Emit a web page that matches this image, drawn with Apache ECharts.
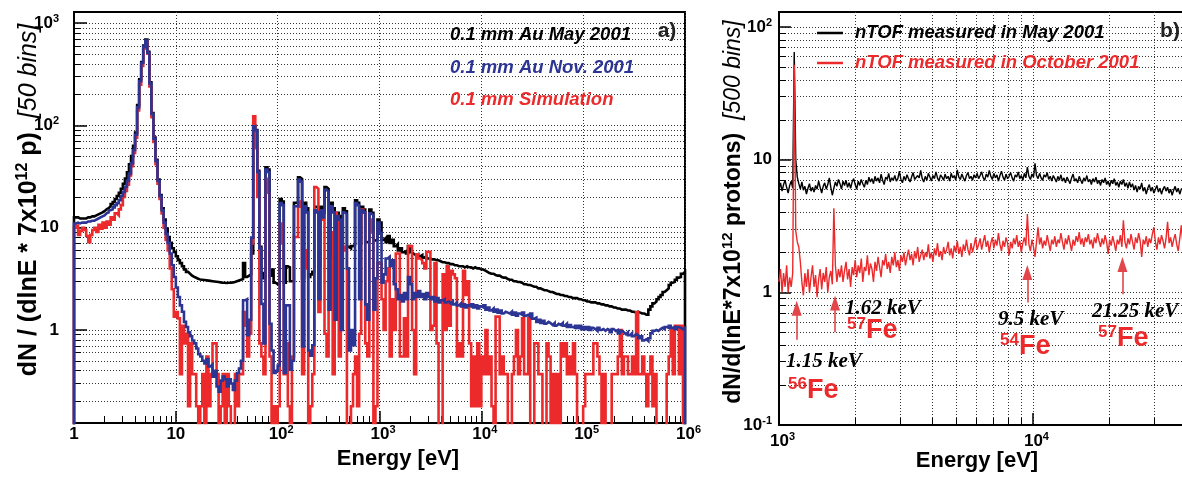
<!DOCTYPE html>
<html>
<head>
<meta charset="utf-8">
<script src="https://cdn.jsdelivr.net/npm/echarts@6/dist/echarts.min.js"></script>
<style>
  html, body { margin: 0; background: #fff; }
  #chart { width: 1182px; height: 477px; }
</style>
</head>
<body>
<div id="chart"></div>
<script>
// ---- panel a) : 50 bins per decade, 1 eV .. 1 MeV (bin i = 10^(i/50) .. 10^((i+1)/50))
const binsPerDecade = 50;
const nBinsA = 300;

// 0.1 mm Au, May 2001 (black)
const mayA = [
  12.6,12.6,12.3,12.3,12.3,12.3,12.6,12.6,12.9,12.9,
  13.2,13.5,13.8,14.1,14.5,15.1,15.5,16.2,17.0,17.8,
  19.1,20.4,21.9,24.0,26.9,30.2,34.7,41.7,50.1,63,
  85,158,282,417,603,692,525,263,132,76,
  46,29.5,20.9,15.5,12.0,9.8,8.1,7.1,6.3,5.8,
  5.25,4.8,4.5,4.2,3.9,3.7,3.55,3.4,3.3,3.24,
  3.16,3.12,3.1,3.08,3.06,3.04,3.02,3.0,2.98,2.96,
  2.94,2.92,2.9,2.9,2.88,2.9,2.9,2.92,2.95,3.0,
  3.05,3.1,3.15,4.5,3.3,3.4,3.5,5.6,100,90,
  36,6.5,3.6,3.2,39,37,3.4,3.9,2.9,2.8,
  2.8,19,18,2.9,4.2,4.1,3.0,3.0,17.5,17.5,
  31,30,3.2,17.5,15.5,3.3,3.5,3.7,16,15.5,
  4.2,16,14,25,24,5.2,17.5,15.5,5.6,14,
  13,6.0,15.5,14.5,6.5,6.3,6.6,6.8,18.5,17.5,
  7.0,16,15,7.2,7.3,15,14,7.5,7.6,12,
  11.2,7.6,7.9,7.2,8.3,7.1,7.6,6.6,6.9,6.0,
  6.3,5.75,5.9,5.6,6.6,5.75,5.5,5.4,5.5,5.25,
  5.4,5.1,5.25,5.0,5.0,4.9,4.9,4.8,4.8,4.7,
  4.6,4.6,4.5,4.5,4.4,4.4,4.3,4.3,4.2,4.2,
  4.2,4.1,4.2,4.1,4.1,4.0,4.1,4.0,4.0,3.9,
  3.9,3.8,3.7,3.6,3.55,3.55,3.45,3.4,3.4,3.3,
  3.25,3.25,3.15,3.1,3.1,3.0,3.0,2.95,2.95,2.9,
  2.8,2.8,2.75,2.75,2.7,2.65,2.65,2.55,2.55,2.5,
  2.45,2.45,2.4,2.35,2.35,2.3,2.25,2.25,2.2,2.2,
  2.15,2.15,2.1,2.1,2.05,2.05,2.05,2.0,2.0,1.95,
  1.95,1.9,1.9,1.86,1.86,1.86,1.82,1.82,1.78,1.78,
  1.74,1.74,1.7,1.7,1.66,1.66,1.62,1.62,1.58,1.58,
  1.58,1.55,1.55,1.51,1.51,1.48,1.51,1.48,1.45,1.45,
  1.41,1.41,1.58,1.7,1.82,1.9,2.0,2.1,2.2,2.35,
  2.45,2.55,2.75,2.9,2.95,3.1,3.25,3.3,3.55,3.7
];

// 0.1 mm Au, Nov. 2001 (blue)
const novA = [
  11.0,11.2,11.0,11.2,11.2,11.2,11.5,11.5,11.7,11.7,
  12.0,12.3,12.6,12.9,13.2,13.8,14.1,14.8,15.1,15.8,
  16.6,17.4,18.6,20.4,22.4,25.1,28.8,33.9,42.7,57.5,
  81,150,270,407,589,676,513,257,129,74,
  45,28.8,20.4,14.8,11.2,8.7,7.1,5.6,4.3,3.3,
  2.6,2.1,1.74,1.51,1.2,1.07,0.95,0.87,0.79,0.74,
  0.66,0.58,0.55,0.50,0.47,0.52,0.44,0.46,0.35,0.40,
  0.28,0.25,0.32,0.35,0.33,0.28,0.33,0.30,0.26,0.32,
  0.38,0.42,0.50,1.95,2.0,0.89,1.26,8,98,89,
  35,6.3,1.8,0.74,37,35,1.15,0.63,0.38,0.40,
  0.45,17.4,16.6,0.38,1.74,1.74,0.41,0.50,16.2,16.2,
  29.5,28.2,0.69,16.2,14.1,0.63,0.56,0.71,14.8,14.1,
  2.0,14.8,12.6,23.4,22.4,1.58,16.2,14.1,1.26,12.9,
  12.0,1.0,14.1,13.5,4.0,0.63,1.0,0.71,17.4,16.6,
  2.0,14.8,14.1,1.78,1.26,13.8,13.2,1.58,3.2,11.2,
  8.9,2.9,3.5,5.0,5.2,4.2,4.8,2.8,2.5,2.0,
  2.2,1.9,2.3,2.0,3.3,2.8,2.0,2.3,2.1,2.4,
  2.1,2.25,2.0,2.3,2.1,2.0,2.1,1.9,2.05,1.86,
  1.95,2.0,1.86,1.9,1.82,1.9,1.78,1.86,1.74,1.82,
  1.7,1.78,1.66,1.74,1.7,1.78,1.66,1.74,1.62,1.7,
  1.66,1.74,1.58,1.66,1.55,1.62,1.51,1.58,1.48,1.55,
  1.45,1.51,1.48,1.45,1.51,1.41,1.48,1.38,1.45,1.41,
  1.48,1.38,1.41,1.35,1.45,1.29,1.32,1.2,1.26,1.17,
  1.23,1.15,1.2,1.17,1.12,1.17,1.1,1.15,1.12,1.17,
  1.1,1.15,1.07,1.12,1.07,1.05,1.1,1.05,1.1,1.02,
  1.07,1.02,1.07,1.0,1.05,1.02,0.98,1.05,1.0,1.02,
  0.98,1.02,1.0,0.95,1.02,0.98,1.0,0.93,0.98,0.95,
  0.91,0.95,0.89,0.93,0.87,0.91,0.89,0.83,0.87,0.79,
  0.81,0.78,0.83,0.93,0.98,1.0,0.98,1.02,1.05,1.02,
  1.07,1.05,1.1,1.05,1.07,1.02,1.07,1.05,1.02,1.05
];

// 0.1 mm simulation (red); 0 = empty bin
const simA = [
  10,10.5,8.5,9.3,10,9.5,8.3,7.2,8.5,9.5,
  10,9.1,10.7,9.8,11.2,10,11.5,10.7,12.6,12,
  13.8,13.2,15.1,16.6,20,22.9,26.3,32.4,39.8,53.7,
  75.9,140,250,380,562,661,501,240,120,69,
  41.7,26.9,19.1,13.8,10,7.6,6.0,4.0,2.5,1.35,
  1.5,1.3,0.37,1.1,0.74,0.92,0.18,0.74,0.37,0.37,
  0.18,0,0.18,0.37,0,0.55,0.18,0.37,0.74,0.74,
  0.37,0,0.18,0.37,0,0.37,0.18,0,0,0.37,
  0.18,0.37,0.37,1.5,1.1,0.55,0.92,7,123,60,
  20,0.74,0.55,0.37,30,22,0.55,0,0.18,0,
  0.18,11,7,0.37,0.74,0.18,0,0.55,8.1,8.1,
  16,18,0.37,6,4,0,0.18,0.37,25,24,
  1.5,14,12,0.92,0.55,14,9,0.37,14,13,
  0.55,7,6,6.5,0,0,0.18,0.37,0.55,0.18,
  0.92,15,14,0.74,0.55,12,9,0,0.18,4.5,
  4.5,2.0,1.0,3.0,4.0,0.55,2.0,1.0,5.6,5.6,
  0.55,0.55,1.3,0.55,6.6,6.6,1.0,0.37,5.5,5.0,
  4.8,4.5,4.0,5.8,5.8,1.0,1.1,4.5,0.74,0,
  0,3.5,1.0,4.2,1.1,3.8,3.5,3.2,0.55,0.74,
  0.55,3.8,2.2,3.0,0.74,0.18,0.55,0.18,0.74,0.18,
  0.55,0.37,1.0,0.37,0.55,0.18,0,1.35,1.35,0.37,
  0.55,0.37,0.37,0,0,0.37,0.55,1.0,0.37,0.55,
  1.3,0.37,0.37,1.3,0,0,0.74,0.74,0.37,0.37,
  0,0,0.74,0.55,0,0.37,0,0.37,0,0.74,
  0.55,0.74,0.37,0.55,0.37,0.74,0.37,0,0,0,
  0.18,0.37,0.37,0.37,0.37,0.74,0.74,0.55,0.37,0,
  0.37,0,0,0,0.37,0.37,0.37,0.55,1.0,0.37,
  0.55,0.55,0.37,0.37,0.55,0.37,1.5,0.37,0.37,0.55,
  0.37,0.18,0.37,0.55,0.18,0.37,0,0,0,0,
  0,0.37,0.55,1.0,0.37,1.1,1.1,0.37,1.1,0
];

// ---- panel b) : points every 0.006 decade starting at 1 keV
const startB = 1000;
const stepB = 0.006;

// nTOF measured in May 2001 (black)
const mayB = [
  6.0,6.7,5.8,6.5,7.0,6.2,5.6,6.4,6.9,6.1,
  65,10,
  7.4,6.6,6.0,6.8,5.9,6.3,5.5,6.1,6.6,5.8,
  6.2,5.7,6.4,6.0,6.9,6.2,5.6,6.3,6.7,6.0,
  6.5,7.3,6.2,5.4,6.1,6.8,6.3,7.1,6.6,6.0,
  6.9,6.4,7.0,6.2,6.7,6.1,6.8,7.2,6.5,6.0,
  6.9,6.4,7.1,6.6,6.2,7.0,6.5,7.4,6.8,
  7.2,6.6,7.5,6.9,7.3,6.7,7.8,7.0,6.5,7.4,
  7.1,7.9,6.8,7.3,7.0,7.6,6.9,7.2,8.2,7.1,
  6.7,7.5,7.0,7.7,7.2,6.8,7.4,8.0,7.1,6.9,
  7.6,7.3,8.3,7.2,6.8,7.5,7.0,7.9,7.4,6.9,
  7.6,7.2,8.1,7.3,6.9,7.7,7.4,7.0,7.8,7.2,
  7.5,6.9,7.9,7.3,7.6,7.0,8.4,7.4,7.1,7.8,
  7.3,6.9,7.6,8.0,7.2,7.5,7.0,7.7,7.3,7.9,
  7.2,7.6,8.1,7.3,7.0,7.8,7.4,8.3,7.5,7.1,
  7.9,7.3,7.7,6.9,7.6,8.2,7.4,7.0,7.8,7.2,
  7.5,8.0,7.3,6.9,7.7,7.4,8.1,7.2,7.6,7.0,
  7.9,7.3,8.8,7.5,7.1,7.8,7.4,9.4,7.6,7.2,
  7.9,7.3,7.0,7.7,7.4,8.0,7.1,7.5,6.9,7.6,
  7.2,6.8,7.5,7.0,7.7,6.9,7.3,6.7,7.4,7.0,
  6.6,7.3,7.8,6.9,7.2,6.7,7.5,7.0,6.6,7.3,
  6.9,7.6,6.8,7.1,6.5,7.2,6.8,7.4,6.6,7.0,
  6.4,7.1,6.7,7.3,6.5,6.9,6.3,7.0,6.6,7.2,
  6.4,6.8,6.2,6.9,6.5,7.1,6.3,6.7,6.1,6.8,
  6.2,6.6,5.9,6.4,5.7,6.3,6.0,6.7,5.8,6.2,
  5.5,6.1,6.5,5.8,6.2,5.6,6.0,6.4,5.7,6.1,
  5.5,6.0,6.3,5.8,6.2,5.6,6.0,5.4,5.9,6.3,
  5.7,6.1,5.5,6.0,5.8,6.2,5.6,6.0,5.7,6.1
];

// nTOF measured in October 2001 (red)
const octB = [
  1.2,1.5,1.0,1.4,1.1,1.6,1.0,1.3,1.1,1.4,
  52,
  2.9,2.4,2.2,1.7,
  1.2,0.95,1.4,1.1,1.5,1.0,1.3,1.6,1.1,1.35,
  0.92,1.25,1.5,1.05,1.4,1.2,1.55,1.0,1.3,1.45,
  1.15,
  4.3,
  1.6,1.2,1.5,
  1.3,1.6,1.2,1.45,1.7,1.25,1.5,1.1,1.55,1.35,
  1.75,1.3,1.6,1.4,1.8,1.2,1.55,1.45,1.9,1.35,
  1.65,1.5,1.2,1.7,1.45,1.85,1.55,1.3,1.75,1.6,
  1.95,1.5,1.7,1.4,1.85,1.6,2.0,1.55,1.75,1.45,
  1.9,
  1.7,2.0,1.6,1.85,2.1,1.75,1.95,1.6,2.05,1.8,
  2.2,1.7,1.9,2.1,1.75,2.0,1.85,2.3,1.8,2.0,
  1.7,2.15,1.9,2.35,1.85,2.05,1.75,2.2,1.95,2.1,
  2.4,1.9,2.15,1.8,2.25,2.0,2.45,1.95,2.2,1.85,
  2.3,2.05,2.5,2.1,1.9,2.35,2.0,2.25,2.6,2.1,
  2.3,2.55,2.1,2.4,2.7,2.2,2.45,2.0,2.35,2.6,
  2.15,2.5,2.25,2.8,2.3,2.05,2.45,2.2,2.6,2.35,
  1.9,2.4,2.15,2.55,2.3,2.7,2.2,2.45,2.0,2.35,
  2.6,2.25,3.9,2.3,2.05,2.5,2.2,1.85,2.4,3.1,
  2.3,2.6,2.15,2.45,2.25,2.7,2.35,2.05,2.5,2.3,
  2.65,2.2,2.5,2.35,2.8,2.4,2.1,2.55,2.3,2.7,
  2.35,2.05,2.5,2.25,2.65,2.4,2.85,2.3,2.55,2.2,
  2.6,2.4,2.75,2.3,2.5,2.15,2.6,2.35,2.8,2.45,
  2.2,2.55,2.3,2.7,2.4,1.95,2.5,2.25,2.65,2.35,
  2.05,2.5,2.3,2.7,2.2,3.5,2.4,2.15,2.55,2.3,
  2.75,2.4,2.1,2.6,2.35,2.8,2.45,1.85,2.5,2.3,
  2.65,2.2,2.55,2.35,2.75,3.1,2.4,2.1,2.6,2.3,
  2.7,2.45,2.15,2.55,3.4,2.35,2.6,2.2,2.5,2.75,
  2.3,2.05,2.55,3.2,2.4,2.6,2.25,2.5,2.7,2.35
];

// resonance arrows in panel b: energy [eV], arrow foot and head (y values)
const arrowE = [1174, 1662, 9500, 22500];
const arrowFrom = [0.44, 0.50, 0.84, 0.97];
const arrowTo = [0.76, 0.83, 1.41, 1.62];

// tick positions
const xMajorA = [1, 10, 100, 1e3, 1e4, 1e5, 1e6];
const yMajorA = [1, 10, 100, 1000];
const xMajorB = [1e3, 1e4];
const yMajorB = [0.1, 1, 10, 100];
const subDigits = [2, 3, 4, 5, 6, 7, 8, 9];

function minorsOf(decades, lo, hi) {
  const out = [];
  decades.forEach(d => subDigits.forEach(k => {
    const v = +(d * k).toPrecision(6);
    if (v > lo && v < hi) out.push(v);
  }));
  return out;
}

const COLORS = { black: '#000000', blue: '#2c3594', red: '#ec2a2c' };
const SANS = '"Liberation Sans", Arial, sans-serif';
const SERIF = '"Liberation Serif", "Times New Roman", serif';

// histogram outline: a point at each lower bin edge, plus closing edge, dropping to the axis floor
const edgesA = Array.from({ length: nBinsA + 1 }, (_, i) => Math.pow(10, i / binsPerDecade));
const FLOOR = 1e-3; // below the axis minimum: empty bins go out of the frame
function histo(vals) {
  const pts = [[edgesA[0], FLOOR]];
  vals.forEach((v, i) => pts.push([edgesA[i], v > 0 ? v : FLOOR]));
  const last = vals[vals.length - 1];
  pts.push([edgesA[nBinsA], last > 0 ? last : FLOOR]);
  pts.push([edgesA[nBinsA], FLOOR]);
  return pts;
}
const eB = mayB.map((_, i) => startB * Math.pow(10, i * stepB));

function powLabel(v) {
  const p = Math.round(Math.log10(v));
  if (p === 0) return '{b|1}';
  if (p === 1) return '{b|10}';
  return '{bp|10}{s|' + p + '}';
}
const labelRich = {
  b: { fontSize: 17, fontWeight: 'bold', fontFamily: SANS, color: '#000', lineHeight: 20 },
  bp: { fontSize: 17, fontWeight: 'bold', fontFamily: SANS, color: '#000', lineHeight: 20 },
  s: { fontSize: 11, fontWeight: 'bold', fontFamily: SANS, color: '#000', verticalAlign: 'top', lineHeight: 12 }
};
const xLabelRich = Object.assign({}, labelRich, {
  bp: Object.assign({}, labelRich.bp, { padding: [0, 0, 0, 7] })
});

const dotted = { color: '#333', width: 1, type: [1, 2] };

function logAxisPair(gridIndex, position, min, max, majors, minors, opt) {
  const major = {
    type: 'log', logBase: 10, gridIndex, position, min, max,
    axisLine: { show: true, onZero: false, lineStyle: { color: '#000', width: 2 } },
    axisTick: { show: true, inside: true, length: opt.majorLen, customValues: majors,
      lineStyle: { color: '#000', width: 1.5 } },
    axisLabel: { show: true, customValues: majors, formatter: powLabel, margin: opt.margin,
      rich: opt.rich, hideOverlap: false },
    splitLine: { show: true, lineStyle: dotted },
    minorTick: { show: false }, minorSplitLine: { show: false }
  };
  const minor = {
    type: 'log', logBase: 10, gridIndex, position, min, max,
    axisLine: { show: false },
    axisTick: { show: true, inside: true, length: opt.minorLen, customValues: minors,
      lineStyle: { color: '#000', width: 1 } },
    axisLabel: { show: false },
    splitLine: { show: opt.minorGrid, lineStyle: dotted },
    minorTick: { show: false }, minorSplitLine: { show: false }
  };
  return [major, minor];
}

// axis ranges
const xA = [1, 1e6], yA = [0.1233, 1283];
const xB = [1000, 41900], yB = [0.1, 130];

const xAxes = [
  ...logAxisPair(0, 'bottom', xA[0], xA[1], xMajorA,
    minorsOf([1, 10, 100, 1e3, 1e4, 1e5], xA[0], xA[1]),
    { majorLen: 12, minorLen: 7, margin: 1, rich: xLabelRich, minorGrid: false }),
  ...logAxisPair(1, 'bottom', xB[0], xB[1], xMajorB,
    minorsOf([1e3, 1e4], xB[0], xB[1]),
    { majorLen: 12, minorLen: 7, margin: 6, rich: xLabelRich, minorGrid: true })
];
const yAxes = [
  ...logAxisPair(0, 'left', yA[0], yA[1], yMajorA,
    minorsOf([0.1, 1, 10, 100], yA[0], yA[1]),
    { majorLen: 13, minorLen: 7, margin: 15, rich: labelRich, minorGrid: true }),
  ...logAxisPair(1, 'left', yB[0], yB[1], yMajorB,
    minorsOf([0.1, 1, 10], yB[0], yB[1]),
    { majorLen: 12, minorLen: 7, margin: 7, rich: labelRich, minorGrid: true })
];

function histSeries(name, vals, color) {
  return {
    name, type: 'line', xAxisIndex: 0, yAxisIndex: 0, data: histo(vals),
    step: 'end', showSymbol: false, clip: true, silent: true,
    lineStyle: { color, width: 2.6, join: 'miter' }
  };
}

const series = [
  histSeries('0.1 mm Au May 2001', mayA, COLORS.black),
  histSeries('0.1 mm Simulation', simA, COLORS.red),
  histSeries('0.1 mm Au Nov. 2001', novA, COLORS.blue),
  {
    name: 'nTOF measured in May 2001', type: 'line', xAxisIndex: 2, yAxisIndex: 2,
    data: mayB.map((v, i) => [eB[i], v]), showSymbol: false, clip: true, silent: true,
    lineStyle: { color: COLORS.black, width: 1.4 }
  },
  {
    name: 'nTOF measured in October 2001', type: 'line', xAxisIndex: 2, yAxisIndex: 2,
    data: octB.map((v, i) => [eB[i], v]), showSymbol: false, clip: true, silent: true,
    lineStyle: { color: COLORS.red, width: 1.4 },
    markLine: {
      silent: true, animation: false,
      symbol: ['none', 'triangle'], symbolSize: [10, 15],
      label: { show: false },
      lineStyle: { color: '#e2454a', width: 1.6, type: 'solid' },
      data: arrowE.map((e, i) => [{ coord: [e, arrowFrom[i]] }, { coord: [e, arrowTo[i]] }])
    }
  }
];

function txt(x, y, text, font, fill, align, extra) {
  return Object.assign({
    type: 'text', x, y, silent: true, z: 100,
    style: { text, font, fill, align: align || 'left', verticalAlign: 'middle',
      textAlign: align || 'left', textVerticalAlign: 'middle' }
  }, extra || {});
}
function richTxt(x, y, text, rich, align, rotation) {
  return {
    type: 'text', x, y, silent: true, z: 100, rotation: rotation || 0,
    style: { text, rich, align: align || 'left', verticalAlign: 'middle',
      textAlign: align || 'left', textVerticalAlign: 'middle' }
  };
}
const legFont = 'italic bold 18.5px ' + SANS;
const keVFont = 'italic bold 21px ' + SERIF;
const isoRich = {
  n: { fontSize: 17, fontWeight: 'bold', fontFamily: SANS, fill: COLORS.red, verticalAlign: 'top', lineHeight: 16 },
  f: { fontSize: 27, fontWeight: 'bold', fontFamily: SANS, fill: COLORS.red, lineHeight: 30 }
};
const ytRich = (size) => ({
  t: { fontSize: size, fontWeight: 'bold', fontFamily: SANS, fill: '#000', lineHeight: size + 4 },
  s: { fontSize: Math.round(size * 0.65), fontWeight: 'bold', fontFamily: SANS, fill: '#000', verticalAlign: 'top', lineHeight: 14 },
  i: { fontSize: size, fontStyle: 'italic', fontFamily: SANS, fill: '#000', lineHeight: size + 4 }
});

const graphic = [
  // panel a) legend
  txt(450, 35, '0.1 mm Au May 2001', legFont, COLORS.black),
  txt(450, 68, '0.1 mm Au Nov. 2001', legFont, COLORS.blue),
  txt(450, 100, '0.1 mm Simulation', legFont, COLORS.red),
  txt(667, 31, 'a)', 'bold 21px ' + SANS, '#222', 'center'),
  // panel b) legend
  { type: 'line', silent: true, z: 100, shape: { x1: 817, y1: 33, x2: 843, y2: 33 }, style: { stroke: COLORS.black, lineWidth: 2.5 } },
  { type: 'line', silent: true, z: 100, shape: { x1: 817, y1: 63, x2: 843, y2: 63 }, style: { stroke: COLORS.red, lineWidth: 2.5 } },
  txt(855, 33, 'nTOF measured in May 2001', legFont, COLORS.black),
  txt(855, 63, 'nTOF measured in October 2001', legFont, COLORS.red),
  txt(1170, 31, 'b)', 'bold 21px ' + SANS, '#222', 'center'),
  // axis titles
  txt(398, 459, 'Energy [eV]', 'bold 22px ' + SANS, '#000', 'center'),
  txt(977, 461, 'Energy [eV]', 'bold 22px ' + SANS, '#000', 'center'),
  richTxt(29, 200, '{t|dN / (dlnE * 7x10}{s|12}{t| p)}{i|  [50 bins]}', ytRich(25), 'center', Math.PI / 2),
  richTxt(734, 212, '{t|dN/d(lnE*7x10}{s|12}{t| protons)}{i|  [500 bins]}', ytRich(23), 'center', Math.PI / 2),
  // resonance labels
  txt(786, 362, '1.15 keV', keVFont, '#000'),
  richTxt(788, 391, '{n|56}{f|Fe}', isoRich),
  txt(845, 309, '1.62 keV', keVFont, '#000'),
  richTxt(847, 331, '{n|57}{f|Fe}', isoRich),
  txt(998, 320, '9.5 keV', keVFont, '#000'),
  richTxt(1000, 347, '{n|54}{f|Fe}', isoRich),
  txt(1092, 312, '21.25 keV', keVFont, '#000'),
  richTxt(1098, 339, '{n|57}{f|Fe}', isoRich)
];

const chart = echarts.init(document.getElementById('chart'), null, { renderer: 'canvas' });
chart.setOption({
  animation: false,
  backgroundColor: '#ffffff',
  grid: [
    { left: 74, top: 12, width: 611, height: 411, show: true, borderColor: '#000', borderWidth: 2,
      backgroundColor: 'transparent', containLabel: false, outerBoundsMode: 'none' },
    { left: 779, top: 12, width: 412, height: 413, show: true, borderColor: '#000', borderWidth: 2,
      backgroundColor: 'transparent', containLabel: false, outerBoundsMode: 'none' }
  ],
  xAxis: xAxes,
  yAxis: yAxes,
  series,
  graphic
});
window.addEventListener('resize', () => chart.resize());
</script>
</body>
</html>
